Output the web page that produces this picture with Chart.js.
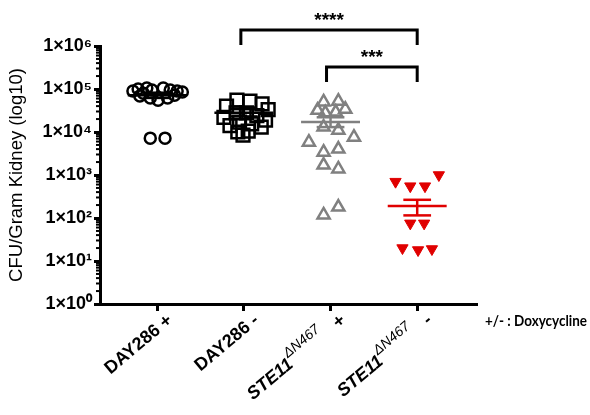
<!DOCTYPE html>
<html>
<head>
<meta charset="utf-8">
<script src="https://cdn.jsdelivr.net/npm/chart.js@4.4.1/dist/chart.umd.min.js"></script>
<style>
  html, body { margin: 0; padding: 0; background: #fff; }
  #wrap { width: 590px; height: 415px; }
</style>
</head>
<body>
<div id="wrap"><canvas id="chart"></canvas></div>
<script>
// groups on the x axis
const strains = ["DAY286", "DAY286", "STE11", "STE11"];
const alleles = ["", "", "ΔN467", "ΔN467"];
const doxy = ["+", "-", "+", "-"];

// y axis
const yTicks = [1, 10, 100, 1000, 10000, 100000, 1000000];
const yTickLabels = ["1×10⁰", "1×10¹", "1×10²", "1×10³", "1×10⁴", "1×10⁵", "1×10⁶"];

// CFU per gram kidney, one value per mouse, with horizontal jitter inside the column
const day286PlusCfu = [90000, 100000, 105000, 95000, 105000, 95000, 90000, 85000, 80000, 69000, 62000, 55000, 62000, 72000, 7200, 7200];
const day286PlusJitter = [-0.28, -0.22, -0.12, -0.06, 0.07, 0.15, 0.23, 0.29, -0.16, -0.2, -0.08, 0.01, 0.12, 0.2, -0.08, 0.09];

const day286MinusCfu = [55000, 52000, 45000, 40000, 33000, 28000, 28000, 24000, 22000, 19000, 17000, 15500, 14000, 13000, 10500, 10000, 8500];
const day286MinusJitter = [-0.08, 0.07, 0.21, -0.2, 0.28, -0.09, 0.03, 0.15, -0.23, 0.25, -0.05, 0.09, -0.16, 0.2, 0.05, -0.07, -0.01];

const ste11PlusCfu = [50000, 52000, 32000, 28000, 29000, 34000, 13000, 11000, 5800, 7600, 3400, 4000, 1700, 1380, 118, 180];
const ste11PlusJitter = [-0.08, 0.09, -0.15, -0.06, 0.06, 0.17, -0.08, 0.09, -0.25, 0.27, -0.08, 0.09, -0.08, 0.09, -0.08, 0.09];

const ste11MinusCfu = [700, 550, 550, 1000, 75, 75, 20, 18, 19];
const ste11MinusJitter = [-0.25, -0.08, 0.09, 0.25, -0.08, 0.08, -0.17, 0.01, 0.17];

// mean and SEM as drawn
const meanCfu = [72000, 28000, 17000, 190];
const semLowCfu = [62000, 23000, 13000, 115];
const semHighCfu = [82000, 34000, 22000, 265];

const colors = ["#000", "#000", "#808080", "#e00000"];

function pts(i, vals, jit) {
  return vals.map((v, k) => ({ x: i + jit[k], y: v }));
}

function seg(x1, x2, y1, y2, color) {
  return {
    type: "line",
    data: [{ x: x1, y: y1 }, { x: x2, y: y2 }],
    borderColor: color,
    borderWidth: 2.5,
    pointRadius: 0,
    showLine: true,
    order: 0
  };
}

function statLines(i) {
  const c = colors[i];
  return [
    seg(i - 0.34, i + 0.34, meanCfu[i], meanCfu[i], c),
    seg(i - 0.16, i + 0.16, semLowCfu[i], semLowCfu[i], c),
    seg(i - 0.16, i + 0.16, semHighCfu[i], semHighCfu[i], c),
    seg(i, i, semLowCfu[i], semHighCfu[i], c)
  ];
}

const datasets = [
  { data: pts(0, day286PlusCfu, day286PlusJitter), pointStyle: "circle", pointRadius: 5.5,
    borderColor: colors[0], backgroundColor: "rgba(0,0,0,0)", pointBorderWidth: 2.5, order: 1 },
  { data: pts(1, day286MinusCfu, day286MinusJitter), pointStyle: "rect", pointRadius: 9,
    borderColor: colors[1], backgroundColor: "rgba(0,0,0,0)", pointBorderWidth: 2.5, order: 1 },
  { data: pts(2, ste11PlusCfu, ste11PlusJitter), pointStyle: "triangle", pointRadius: 7,
    borderColor: colors[2], backgroundColor: "rgba(0,0,0,0)", pointBorderWidth: 2.5, order: 1 },
  { data: pts(3, ste11MinusCfu, ste11MinusJitter), pointStyle: "triangle", rotation: 180, pointRadius: 6.5,
    borderColor: colors[3], backgroundColor: colors[3], pointBorderWidth: 1, order: 1 },
  ...statLines(0), ...statLines(1), ...statLines(2), ...statLines(3)
];

const FONT = "'Liberation Sans', Arial, sans-serif";

const extras = {
  id: "extras",
  afterDraw(chart) {
    const ctx = chart.ctx;
    const xs = chart.scales.x;
    const ys = chart.scales.y;
    const area = chart.chartArea;
    ctx.save();

    // minor ticks on the log axis
    ctx.strokeStyle = "#000";
    ctx.lineWidth = 2;
    for (let n = 0; n < 6; n++) {
      for (let k = 2; k <= 9; k++) {
        const py = ys.getPixelForValue(k * Math.pow(10, n));
        ctx.beginPath();
        ctx.moveTo(area.left - 4, py);
        ctx.lineTo(area.left, py);
        ctx.stroke();
      }
    }

    // rotated group labels
    ctx.fillStyle = "#000";
    ctx.textBaseline = "alphabetic";
    for (let i = 0; i < strains.length; i++) {
      const italic = alleles[i] !== "";
      const parts = [
        { t: strains[i], f: (italic ? "italic " : "") + "bold 18px " + FONT, dy: 0 },
        { t: alleles[i], f: "italic 14px " + FONT, dy: -10 },
        { t: (italic ? "   " : " ") + doxy[i], f: "bold 18px " + FONT, dy: 0 }
      ];
      let w = 0;
      parts.forEach(p => { ctx.font = p.f; p.w = ctx.measureText(p.t).width; w += p.w; });
      ctx.save();
      ctx.translate(xs.getPixelForValue(i) + 16, area.bottom + 18);
      ctx.rotate(-40 * Math.PI / 180);
      let cx = -w;
      parts.forEach(p => { ctx.font = p.f; ctx.fillText(p.t, cx, p.dy); cx += p.w; });
      ctx.restore();
    }

    // legend note
    ctx.font = "bold 16px Lato, " + FONT;
    ctx.textAlign = "left";
    ctx.fillText("+/- : Doxycycline", area.right + 8, area.bottom + 22, 102);

    // significance brackets
    const x1 = xs.getPixelForValue(1) - 3;
    const x2 = xs.getPixelForValue(2) - 4;
    const x3 = xs.getPixelForValue(3);
    ctx.lineWidth = 3;
    ctx.lineJoin = "miter";
    ctx.beginPath();
    ctx.moveTo(x1, area.top - 1);
    ctx.lineTo(x1, area.top - 16);
    ctx.lineTo(x3, area.top - 16);
    ctx.lineTo(x3, area.top - 1);
    ctx.stroke();
    ctx.beginPath();
    ctx.moveTo(x2, area.top + 36);
    ctx.lineTo(x2, area.top + 21);
    ctx.lineTo(x3, area.top + 21);
    ctx.lineTo(x3, area.top + 36);
    ctx.stroke();
    ctx.font = "bold 19px " + FONT;
    ctx.textAlign = "center";
    ctx.textBaseline = "alphabetic";
    ctx.fillText("****", (x1 + x3) / 2, area.top - 20);
    ctx.fillText("***", (x2 + x3) / 2, area.top + 17);
    ctx.restore();
  }
};

new Chart(document.getElementById("chart"), {
  type: "scatter",
  data: { datasets: datasets },
  options: {
    responsive: true,
    maintainAspectRatio: false,
    animation: false,
    layout: { padding: { top: 46, right: 113, left: 0, bottom: 0 } },
    plugins: { legend: { display: false }, tooltip: { enabled: false } },
    scales: {
      x: {
        type: "linear",
        min: -0.66,
        max: 3.69,
        afterBuildTicks: axis => { axis.ticks = strains.map((s, i) => ({ value: i })); },
        afterFit: scale => { scale.height = 111; },
        ticks: { display: false },
        grid: { drawOnChartArea: false, drawTicks: true, tickLength: 7, tickWidth: 3, tickColor: "#000" },
        border: { display: true, color: "#000", width: 3 }
      },
      y: {
        type: "logarithmic",
        min: 1,
        max: 1000000,
        afterBuildTicks: axis => { axis.ticks = yTicks.map(v => ({ value: v })); },
        afterFit: scale => { scale.width = 100; },
        ticks: {
          color: "#000",
          padding: 2,
          font: { family: FONT, size: 18, weight: "bold" },
          callback: (v, idx) => yTickLabels[idx]
        },
        grid: { drawOnChartArea: false, drawTicks: true, tickLength: 6, tickWidth: 3, tickColor: "#000" },
        border: { display: true, color: "#000", width: 3 },
        title: {
          display: true,
          text: "CFU/Gram Kidney (log10)",
          color: "#000",
          font: { family: FONT, size: 18.5 },
          padding: { top: 6, bottom: 0 }
        }
      }
    }
  },
  plugins: [extras]
});
</script>
</body>
</html>
